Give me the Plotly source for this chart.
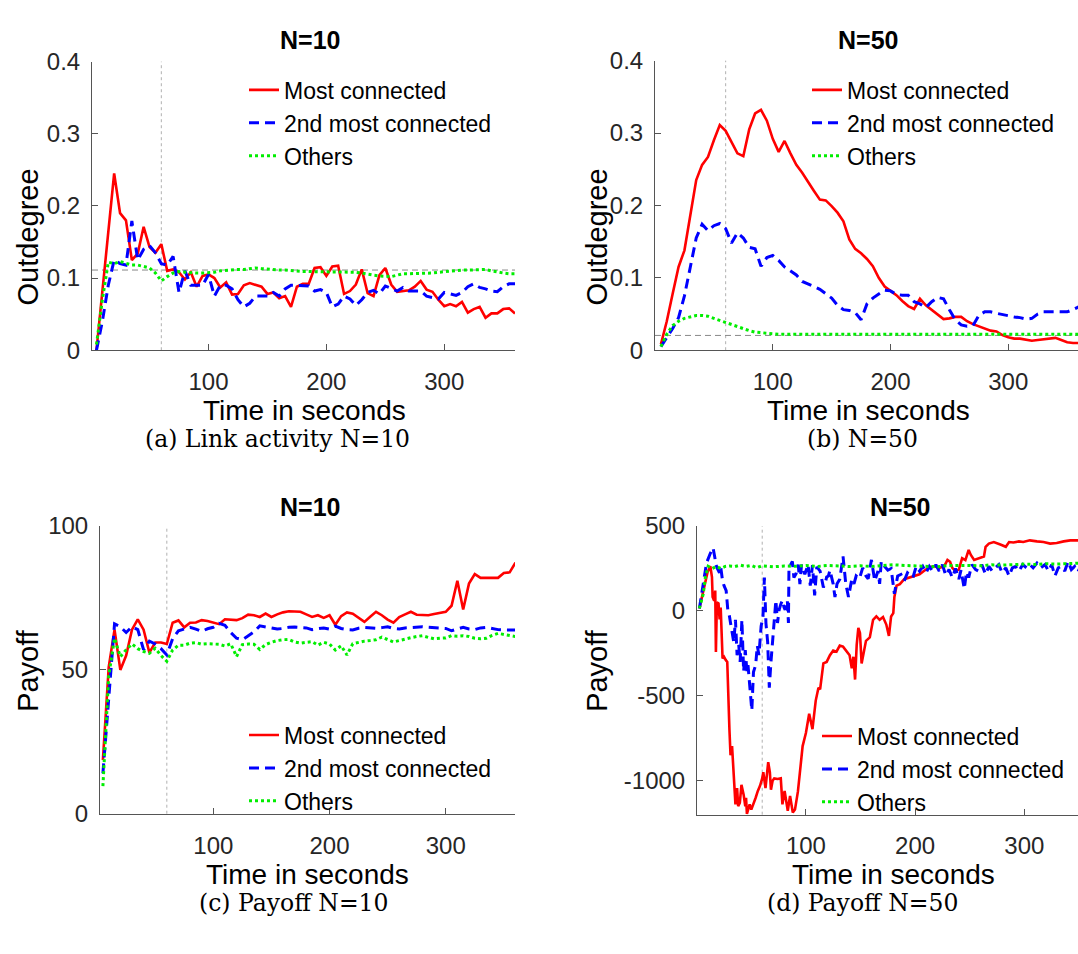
import plotly.graph_objects as go

# ---------------------------------------------------------------- data
# sampling grid (seconds) used by panels (a)-(c)
t_grid = list(range(5, 365, 5))

# (a) link activity, N=10
outdeg10_most = [0, 0.08, 0.16, 0.245, 0.19, 0.18, 0.125, 0.134, 0.171, 0.143, 0.135, 0.147,
                 0.110, 0.112, 0.108, 0.098, 0.108, 0.088, 0.103, 0.105,
                 0.100, 0.087, 0.094, 0.077, 0.078, 0.090, 0.093, 0.090, 0.088, 0.078,
                 0.080, 0.072, 0.075, 0.060, 0.088, 0.092, 0.092, 0.114, 0.115, 0.103,
                 0.116, 0.117, 0.078, 0.082, 0.091, 0.112, 0.079, 0.075, 0.104, 0.114,
                 0.091, 0.081, 0.082, 0.083, 0.088, 0.096, 0.084, 0.081, 0.070, 0.061,
                 0.064, 0.061, 0.067, 0.052, 0.057, 0.060, 0.045, 0.051, 0.051, 0.057, 0.058, 0.051]
outdeg10_second = [0, 0.04, 0.09, 0.125, 0.12, 0.118, 0.179, 0.125, 0.14, 0.145, 0.135, 0.12,
                   0.118, 0.13, 0.08, 0.11, 0.09, 0.09, 0.09, 0.105,
                   0.075, 0.09, 0.09, 0.085, 0.07, 0.06, 0.065, 0.075, 0.075, 0.075,
                   0.08, 0.075, 0.085, 0.09, 0.09, 0.09, 0.089, 0.082, 0.084, 0.08,
                   0.06, 0.064, 0.075, 0.071, 0.062, 0.07, 0.08, 0.083, 0.078, 0.089,
                   0.086, 0.082, 0.087, 0.082, 0.082, 0.082, 0.075, 0.073, 0.071, 0.08,
                   0.078, 0.076, 0.08, 0.088, 0.092, 0.087, 0.085, 0.082, 0.081, 0.088, 0.092, 0.092]
outdeg10_others = [0.008, 0.07, 0.122, 0.12, 0.123, 0.12, 0.118, 0.118, 0.116, 0.114, 0.107, 0.096,
                   0.102, 0.107, 0.109, 0.108, 0.108, 0.107, 0.107, 0.107,
                   0.108, 0.11, 0.111, 0.112, 0.112, 0.112, 0.113, 0.114, 0.113, 0.112,
                   0.112, 0.111, 0.111, 0.11, 0.109, 0.109, 0.109, 0.109, 0.108, 0.108,
                   0.108, 0.108, 0.108, 0.109, 0.108, 0.107, 0.105, 0.104, 0.103, 0.102,
                   0.102, 0.104, 0.106, 0.106, 0.106, 0.106, 0.106, 0.107, 0.108, 0.109,
                   0.11, 0.11, 0.111, 0.111, 0.111, 0.112, 0.112, 0.11, 0.108, 0.107, 0.106, 0.106]

# (b) link activity, N=50
outdeg50_most = [0.008, 0.04, 0.078, 0.115, 0.138, 0.187, 0.235, 0.256, 0.267, 0.29, 0.311, 0.303,
                 0.288, 0.272, 0.268, 0.305, 0.327, 0.332, 0.317, 0.292,
                 0.274, 0.289, 0.272, 0.256, 0.245, 0.232, 0.22, 0.208, 0.207, 0.199,
                 0.19, 0.178, 0.153, 0.14, 0.134, 0.126, 0.116, 0.1, 0.088, 0.082,
                 0.076, 0.068, 0.061, 0.057, 0.071, 0.062, 0.056, 0.05, 0.043, 0.044,
                 0.046, 0.046, 0.04, 0.036, 0.033, 0.029, 0.027, 0.026, 0.021, 0.018,
                 0.016, 0.016, 0.014, 0.013, 0.014, 0.015, 0.016, 0.017, 0.014, 0.011, 0.01, 0.01]
outdeg50_second = [0.005, 0.018, 0.03, 0.045, 0.075, 0.115, 0.155, 0.174, 0.165, 0.172, 0.175, 0.168,
                   0.148, 0.162, 0.155, 0.142, 0.14, 0.116, 0.128, 0.131,
                   0.124, 0.115, 0.109, 0.104, 0.095, 0.092, 0.088, 0.084, 0.078, 0.072,
                   0.062, 0.056, 0.055, 0.052, 0.042, 0.064, 0.072, 0.078, 0.083, 0.082,
                   0.077, 0.076, 0.076, 0.067, 0.064, 0.059, 0.067, 0.073, 0.071, 0.056,
                   0.042, 0.035, 0.033, 0.034, 0.048, 0.053, 0.053, 0.051, 0.049, 0.048,
                   0.046, 0.045, 0.043, 0.044, 0.05, 0.053, 0.053, 0.053, 0.053, 0.053, 0.056, 0.06]
outdeg50_others = [0.005, 0.022, 0.034, 0.04, 0.044, 0.046, 0.048, 0.048, 0.047, 0.044, 0.041, 0.038,
                   0.035, 0.033, 0.030, 0.027, 0.025, 0.024, 0.023, 0.023,
                   0.022, 0.022, 0.022, 0.022, 0.021, 0.021, 0.022, 0.022, 0.022, 0.021,
                   0.021, 0.022, 0.022, 0.022, 0.021, 0.021, 0.022, 0.022, 0.022, 0.021,
                   0.021, 0.022, 0.022, 0.022, 0.021, 0.021, 0.021, 0.022, 0.022, 0.022,
                   0.021, 0.021, 0.022, 0.022, 0.021, 0.021, 0.021, 0.022, 0.022, 0.022,
                   0.021, 0.021, 0.022, 0.022, 0.022, 0.021, 0.021, 0.022, 0.022, 0.022, 0.022, 0.022]

# (c) payoff, N=10
payoff10_most = [18.6, 51, 64, 50, 55, 64, 67.6, 64, 56, 59.5, 59.5, 59,
                 66.4, 67.2, 64.8, 66.4, 66.5, 67.3, 67, 66.5,
                 65.9, 67.6, 67.5, 67.3, 68, 69.2, 69, 68.4, 69.6, 68.4,
                 69.3, 70, 70.4, 70.3, 70.2, 69.3, 68.4, 69, 68.1, 69,
                 65.7, 68.7, 70, 69.5, 68, 66.7, 68.5, 70.2, 69, 67.5,
                 66.4, 68.4, 69.3, 70.2, 69.2, 69, 69, 69.4, 69.8, 70.2,
                 72.3, 81, 71, 80, 83.3, 82, 82, 82, 82, 83.7, 83.9, 87.3]
payoff10_second = [14, 40, 66, 65, 63, 65, 64, 57, 60, 59, 57.4, 55.2,
                   60.8, 63.6, 64.2, 64.8, 64.2, 63.4, 64.3, 64.8,
                   66.2, 65.5, 63, 61, 60.5, 61.8, 63.2, 65.3, 65, 64.6,
                   64.2, 64.4, 64.8, 64.9, 64.7, 64.6, 64, 64.4, 64.6, 64.2,
                   65.2, 64.4, 64, 63.9, 64.5, 64.8, 64.6, 64.5, 64.7, 65,
                   64.4, 64.2, 64.6, 64.8, 64.9, 65, 64.8, 64.7, 64.5, 64.4,
                   63.6, 64.3, 64.8, 64.2, 64, 64.6, 64.8, 64.4, 64, 63.9, 63.9, 63.9]
payoff10_others = [9.6, 47.9, 61, 54.6, 57, 59, 57.4, 56.4, 55.8, 57.5, 55, 53,
                   56.9, 58.6, 58.6, 59.3, 59.5, 58.9, 59.1, 59,
                   58.9, 58.3, 59.1, 54.6, 58.8, 59, 58.9, 57.1, 58.8, 59.6,
                   60.2, 60.5, 60.6, 59.7, 59.3, 59.6, 59.8, 58.6, 59.6, 59,
                   56.9, 58.4, 55.2, 59.1, 59.6, 60, 60.2, 60.5, 61.4, 60.6,
                   59.7, 60.2, 60.8, 61.2, 61.6, 61.9, 61.3, 60.8, 61, 61.1,
                   61.9, 61.7, 61.9, 61.6, 61, 60.8, 61, 62, 62.7, 62.3, 61.8, 61.6]

# (d) payoff, N=50 (irregular sampling)
t50_most = [2.5, 6, 10, 12.5, 14, 14.6, 16, 17, 17.6, 18.5, 20, 21, 22, 23.7, 25, 26.7, 28, 30, 31,
            32.4, 34, 35.5, 36.2, 37, 38, 39.5, 41, 43, 44.5, 45.2, 46, 47.5, 48.5, 50, 52, 54,
            56, 58, 60, 61, 63, 65.5, 67, 68, 69.5, 71, 74, 77, 78.5, 80.5, 83.4, 85.5, 88, 90,
            92.7, 95, 97, 100, 103, 106, 109, 111.5, 113, 116, 119, 122, 125, 128, 131, 134, 137,
            140, 142, 143.5, 145, 146.5, 148, 149.5, 151, 153, 155, 158.5, 161.5, 164.5, 167.5,
            170.6, 173.6, 176, 178, 180, 181, 183, 186, 190, 195, 199, 204, 208, 213, 217.5, 222,
            226.6, 229.6, 232, 234, 237, 240, 243, 246, 249, 251, 254, 258.4, 263, 264.5, 267.5,
            272, 275, 278, 283, 286, 290, 295, 299, 305, 311.5, 317.5, 323.6, 329.6, 336, 342,
            348, 355, 360]
payoff50_most = [15, 120, 230, 263, 200, 82, 60, 120, -242, 50, 44, -50, 20, -280, -270, -290, -300,
                 -700, -850, -796, -986, -1139, -1100, -1044, -1150, -1130, -1024, -1082, -1150,
                 -1100, -1196, -1160, -1139, -1170, -1139, -1100, -1060, -1030, -986, -950, -1044,
                 -891, -950, -1053, -1000, -986, -990, -986, -1139, -1060, -1177, -1090, -1187,
                 -1170, -1063, -910, -796, -719, -605, -696, -528, -452, -462, -309, -300, -261,
                 -233, -240, -204, -210, -233, -261, -338, -270, -404, -200, -99, -130, -309, -250,
                 -176, -156, -52, -32, -52, -36, -80, -147, -32, -13, 82, 149, 158, 187, 197, 206,
                 216, 235, 258, 263, 254, 263, 301, 290, 254, 235, 244, 311, 300, 359, 330, 301,
                 311, 321, 378, 397, 406, 397, 391, 378, 406, 403, 410, 406, 416, 410, 406, 397,
                 400, 410, 416, 416, 418, 415]
t50_second = [2.5, 6, 9, 12.5, 15, 16.5, 17.6, 19, 20.9, 22, 23.5, 25, 27, 28.5, 30, 31, 32.5, 34,
              35.5, 37, 38.5, 39.8, 41.4, 43, 44.5, 46, 47, 49, 50.5, 52, 54, 55.5, 57, 59, 60.7,
              62, 63.4, 65, 66.5, 68, 69.5, 71, 72.5, 74, 75.5, 77, 78.5, 80, 81, 83, 84, 84.5, 86,
              87.6, 89, 91, 93, 94.5, 96, 99, 102, 104, 106, 108, 110, 113, 116, 117.5, 119, 120.6,
              122, 125, 126.6, 128.5, 131, 134, 136.5, 139, 142, 144, 146, 149, 152, 155, 157, 160,
              163, 166, 167.5, 169, 172, 175, 178, 181, 184, 187, 190, 193, 198, 201, 204, 207,
              210, 213, 216, 219, 222, 225, 228, 231, 234, 237, 240, 242, 245, 247, 249, 252,
              255.4, 258, 261, 264.5, 267.5, 270.5, 273.5, 276.6, 279.6, 283, 286, 289, 292, 295,
              298.5, 302, 305, 308, 311.5, 315, 319, 322, 325, 328, 331, 334, 337, 340, 343, 346,
              349, 352, 355, 358]
payoff50_second = [15, 150, 282, 340, 372, 320, 273, 250, 225, 260, 187, 150, 120, 6, -30, -71, -120,
                   -185, -52, -261, -200, -300, -52, -357, -230, -357, -319, -452, -586, -360, -319,
                   -204, -260, -90, -32, 197, -71, -185, -452, -300, -180, -71, 63, -71, 6, 40, 63,
                   20, 7, 63, -71, 254, 273, 292, 197, 220, 273, 158, 273, 216, 273, 149, 270, 92,
                   260, 235, 139, 158, 200, 206, 240, 158, 82, 160, 187, 321, 160, 82, 187, 160, 206,
                   190, 254, 206, 190, 301, 177, 235, 160, 292, 263, 240, 250, 101, 206, 215, 177,
                   225, 197, 263, 235, 263, 225, 263, 235, 273, 235, 273, 210, 244, 197, 250, 187,
                   240, 130, 230, 197, 273, 244, 235, 273, 216, 263, 235, 254, 273, 225, 254, 206,
                   254, 263, 235, 273, 254, 273, 254, 282, 254, 273, 235, 273, 206, 254, 263, 235,
                   292, 244, 263, 230, 270, 240, 265]
t50_others = [2.5, 6, 8, 10.5, 14, 18, 22, 26, 30, 35, 40, 45, 50, 55, 60, 65, 70, 80, 90, 100, 110,
              120, 130, 140, 150, 160, 170, 180, 190, 200, 210, 220, 230, 240, 250, 260, 270, 280,
              290, 300, 310, 320, 330, 340, 350, 360]
payoff50_others = [15, 100, 200, 263, 250, 262, 250, 262, 265, 262, 270, 262, 268, 255, 266, 262,
                   260, 265, 263, 268, 262, 268, 265, 262, 266, 262, 268, 272, 268, 266, 264, 260,
                   268, 270, 268, 266, 272, 270, 274, 276, 274, 278, 276, 280, 282, 280]

series_names = ["Most connected", "2nd most connected", "Others"]
baseline_a = 1 / 9      # 1/(N-1), N=10
baseline_b = 1 / 49     # 1/(N-1), N=50
t_switch = 60

# ---------------------------------------------------------------- style
W, H = 1078, 954
SANS = "Liberation Sans, Arial, sans-serif"
SERIF = "DejaVu Serif, serif"
INK = "#262626"
AXIS = "#555555"
COLORS = ["#ff0000", "#0000ff", "#00ee00"]
DASHES = ["solid", "10px,6px", "3px,3px"]
WIDTHS = [2.6, 3.0, 3.0]


def px_x(p):
    return p / W


def px_y(p):
    return 1 - p / H


fig = go.Figure()

panels = [
    dict(xs=(92, 515), ys=(49, 346), xr=[1.2, 360], yr=[0, 0.4],
         yt=[0, 0.1, 0.2, 0.3, 0.4], ytt=["0", "0.1", "0.2", "0.3", "0.4"],
         data=[(t_grid, outdeg10_most), (t_grid, outdeg10_second), (t_grid, outdeg10_others)]),
    dict(xs=(655, 1078), ys=(48, 346), xr=[0, 359.2], yr=[0, 0.4],
         yt=[0, 0.1, 0.2, 0.3, 0.4], ytt=["0", "0.1", "0.2", "0.3", "0.4"],
         data=[(t_grid, outdeg50_most), (t_grid, outdeg50_second), (t_grid, outdeg50_others)]),
    dict(xs=(100, 515), ys=(527, 823), xr=[2.5, 359.6], yr=[0, 100],
         yt=[0, 50, 100], ytt=["0", "50", "100"],
         data=[(t_grid, payoff10_most), (t_grid, payoff10_second), (t_grid, payoff10_others)]),
    dict(xs=(697, 1078), ys=(527, 824), xr=[0.3, 349.1], yr=[-1200, 500],
         yt=[-1000, -500, 0, 500], ytt=["-1000", "-500", "0", "500"],
         data=[(t50_most, payoff50_most), (t50_second, payoff50_second), (t50_others, payoff50_others)]),
]

# legend top-left corners in pixels
legend_pos = [(244, 56), (807, 56), (244, 720), (817, 721)]

layout = dict(
    width=W, height=H, margin=dict(l=0, r=0, t=0, b=0),
    paper_bgcolor="white", plot_bgcolor="white",
    font=dict(family=SANS, color=INK),
    shapes=[], annotations=[],
)

for i, p in enumerate(panels):
    k = "" if i == 0 else str(i + 1)
    xa, ya = "x" + k, "y" + k
    leg = "legend" + k
    for j, (tt, vv) in enumerate(p["data"]):
        fig.add_trace(go.Scatter(
            x=tt, y=vv, mode="lines", name=series_names[j],
            xaxis=xa, yaxis=ya, legend=leg,
            line=dict(color=COLORS[j], width=WIDTHS[j], dash=DASHES[j]),
        ))
    common = dict(showline=True, linecolor=AXIS, linewidth=1, ticks="inside",
                  ticklen=6, tickcolor=AXIS, showgrid=False, zeroline=False,
                  tickfont=dict(size=24, color=INK, family=SANS))
    layout["xaxis" + k] = dict(domain=[px_x(p["xs"][0]), px_x(p["xs"][1])], range=p["xr"],
                               anchor=ya, tickvals=[100, 200, 300], ticklabelstandoff=10,
                               **common)
    layout["yaxis" + k] = dict(domain=[px_y(p["ys"][1]), px_y(p["ys"][0])], range=p["yr"],
                               anchor=xa, tickvals=p["yt"], ticktext=p["ytt"],
                               ticklabelstandoff=6, **common)
    lx, ly = legend_pos[i]
    layout[leg] = dict(x=px_x(lx), y=px_y(ly), xanchor="left", yanchor="top",
                       bgcolor="rgba(0,0,0,0)", font=dict(size=23, family=SANS, color="black"),
                       tracegroupgap=0)
    # switching time marker
    layout["shapes"].append(dict(type="line", xref=xa, yref=ya + " domain", x0=t_switch, x1=t_switch,
                                 y0=0, y1=1, layer="below",
                                 line=dict(color="#b0b0b0", width=1, dash="dot")))

# 1/(N-1) reference levels for the outdegree panels
for k, level in [("", baseline_a), ("2", baseline_b)]:
    layout["shapes"].append(dict(type="line", xref="x" + k + " domain", yref="y" + k,
                                 x0=0, x1=1, y0=level, y1=level, layer="below",
                                 line=dict(color="#888888", width=1, dash="6px,4px")))

texts = [
    # (text, x px, y px, size, family, angle)
    ("<b>N=10</b>", 310, 27, 25, SANS, 0),
    ("<b>N=50</b>", 868, 27, 25, SANS, 0),
    ("<b>N=10</b>", 310, 507, 25, SANS, 0),
    ("<b>N=50</b>", 900, 507, 25, SANS, 0),
    ("Time in seconds", 304, 408, 28, SANS, 0),
    ("Time in seconds", 868, 408, 28, SANS, 0),
    ("Time in seconds", 307, 886, 28, SANS, 0),
    ("Time in seconds", 893, 886, 28, SANS, 0),
    ("Outdegree", 28, 230, 29, SANS, -90),
    ("Outdegree", 597, 230, 29, SANS, -90),
    ("Payoff", 28, 676, 29, SANS, -90),
    ("Payoff", 597, 676, 29, SANS, -90),
    ("(a) Link activity N=10", 277, 437, 23.5, SERIF, 0),
    ("(b) N=50", 862, 437, 23.5, SERIF, 0),
    ("(c) Payoff N=10", 293, 915, 23.5, SERIF, 0),
    ("(d) Payoff N=50", 862, 915, 23.5, SERIF, 0),
]
for txt, x, y, size, fam, ang in texts:
    layout["annotations"].append(dict(text=txt, x=px_x(x), y=px_y(y), xref="paper", yref="paper",
                                      xanchor="center", yanchor="middle", showarrow=False,
                                      textangle=ang, font=dict(size=size, family=fam, color="black")))

fig.update_layout(**layout)
fig.write_html("out.html")
